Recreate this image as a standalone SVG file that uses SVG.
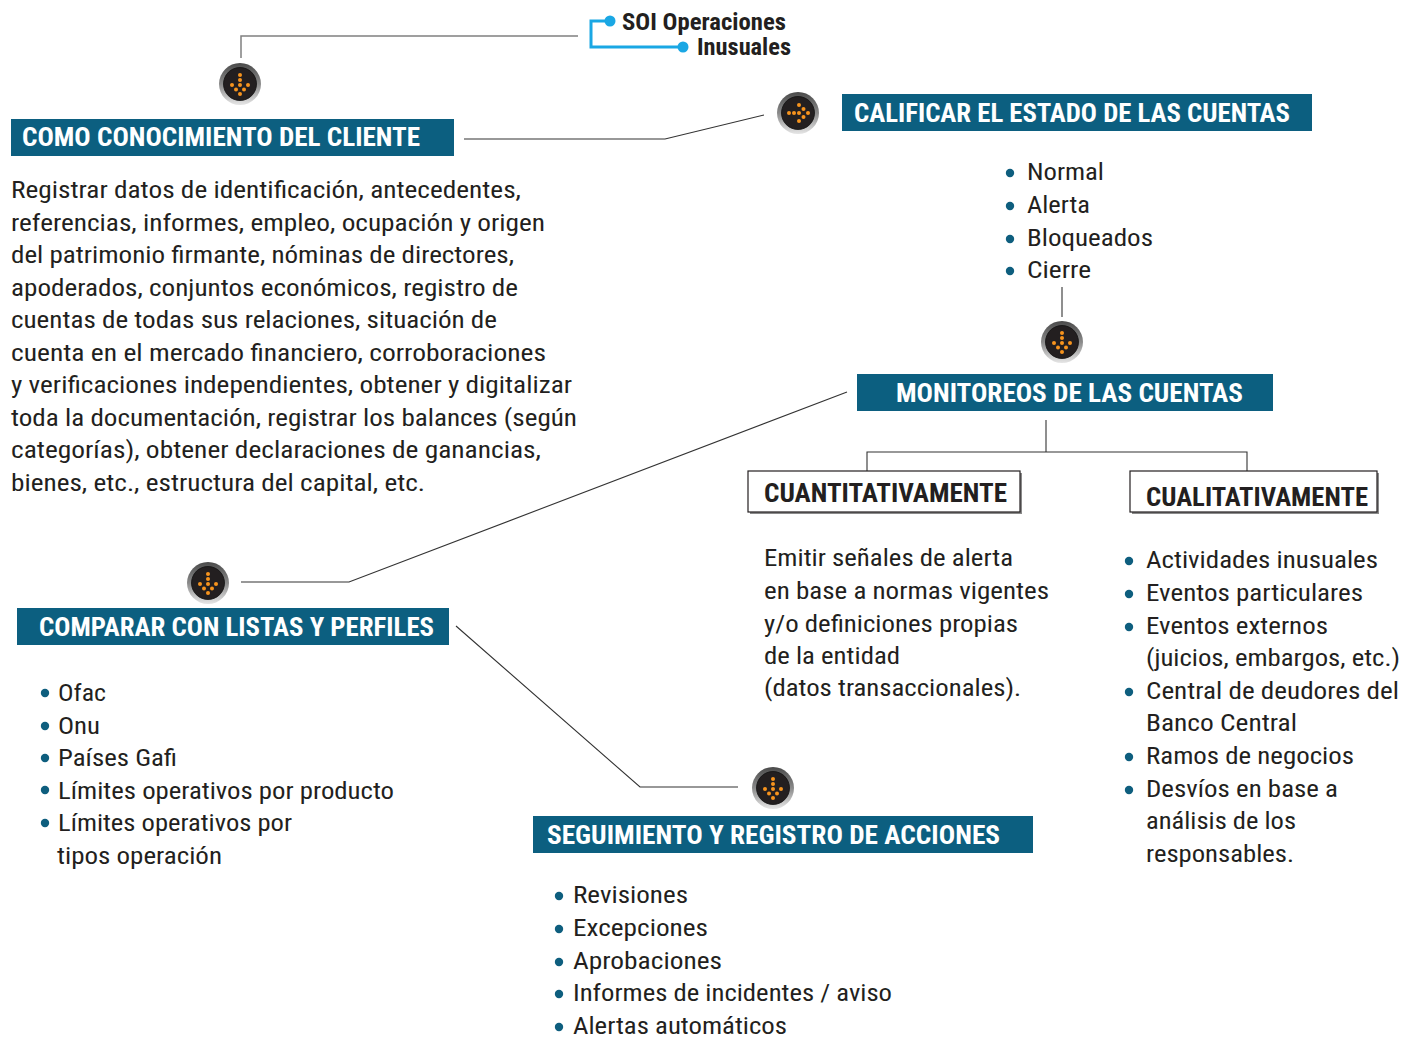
<svg xmlns="http://www.w3.org/2000/svg" width="1418" height="1039" viewBox="0 0 1418 1039">
<defs>
<style>
.t{font-family:"Liberation Sans Narrow","Roboto Condensed","Arial Narrow","Liberation Sans",sans-serif;font-size:24px;fill:#231f20}
.h{font-family:"Liberation Sans Narrow","Roboto Condensed","Arial Narrow","Liberation Sans",sans-serif;font-size:26px;font-weight:bold;fill:#ffffff}
.b{font-family:"Liberation Sans Narrow","Roboto Condensed","Arial Narrow","Liberation Sans",sans-serif;font-size:26px;font-weight:bold;fill:#231f20}
.s{font-family:"Liberation Sans Narrow","Roboto Condensed","Arial Narrow","Liberation Sans",sans-serif;font-size:23px;font-weight:bold;fill:#231f20}
.bar{fill:#0c5f80}
.box{fill:#ffffff;stroke:#231f20;stroke-width:1.2}
.ln{fill:none;stroke:#333333;stroke-width:1.1}
.bu{fill:#0e5e7e}
.dot{fill:#f7941d}
</style>
<linearGradient id="ring" x1="0" y1="0" x2="0" y2="1">
<stop offset="0" stop-color="#4a4a4a"/>
<stop offset="0.5" stop-color="#8a8a8a"/>
<stop offset="1" stop-color="#e6e6e6"/>
</linearGradient>
<g id="iconDown">
<circle r="21" fill="url(#ring)"/>
<circle r="16.5" fill="#231f20" stroke="#111" stroke-width="0.8"/>
<circle class="dot" cx="0" cy="-9" r="2"/>
<circle class="dot" cx="0" cy="-4" r="2"/>
<circle class="dot" cx="0" cy="1" r="2"/>
<circle class="dot" cx="-8" cy="1" r="2"/>
<circle class="dot" cx="8" cy="1" r="2"/>
<circle class="dot" cx="-4" cy="5.5" r="2"/>
<circle class="dot" cx="4" cy="5.5" r="2"/>
<circle class="dot" cx="0" cy="10" r="2"/>
</g>
<g id="iconRight">
<circle r="21" fill="url(#ring)"/>
<circle r="16.5" fill="#231f20" stroke="#111" stroke-width="0.8"/>
<circle class="dot" cx="-9" cy="0" r="2"/>
<circle class="dot" cx="-4" cy="0" r="2"/>
<circle class="dot" cx="1" cy="0" r="2"/>
<circle class="dot" cx="1" cy="-8" r="2"/>
<circle class="dot" cx="1" cy="8" r="2"/>
<circle class="dot" cx="5.5" cy="-4" r="2"/>
<circle class="dot" cx="5.5" cy="4" r="2"/>
<circle class="dot" cx="10" cy="0" r="2"/>
</g>
</defs>
<rect width="1418" height="1039" fill="#ffffff"/>

<g id="connectors">
<polyline points="578,36 241,36 241,58" fill="none" stroke="#808080" stroke-width="1.5"/>
<polyline class="ln" points="464,139 665,139 764,115"/>
<line class="ln" x1="1062" y1="287" x2="1062" y2="317"/>
<line class="ln" x1="1046" y1="420" x2="1046" y2="452"/>
<polyline class="ln" points="867,471 867,452 1247,452 1247,471"/>
<polyline class="ln" points="847,392 349,582 241,582"/>
<polyline class="ln" points="456,626 640,787 738,787"/>
</g>

<g id="title">
<polyline points="610,21 591,21 591,47 683,47" fill="none" stroke="#1aa7e4" stroke-width="3"/>
<circle cx="610" cy="21" r="5.5" fill="#1aa7e4"/>
<circle cx="683" cy="47" r="5.5" fill="#1aa7e4"/>
<text class="s" x="622" y="30" textLength="164" lengthAdjust="spacingAndGlyphs">SOI Operaciones</text>
<text class="s" x="697" y="55" textLength="94" lengthAdjust="spacingAndGlyphs">Inusuales</text>
</g>

<g id="icon1"><use href="#iconDown" x="240" y="84"/></g>
<g id="icon2"><use href="#iconRight" x="798" y="113"/></g>
<g id="icon3"><use href="#iconDown" x="1062" y="342"/></g>
<g id="icon4"><use href="#iconDown" x="208" y="583"/></g>
<g id="icon5"><use href="#iconDown" x="773" y="788"/></g>

<g id="node-conocimiento">
<rect class="bar" x="11" y="119" width="443" height="37"/>
<text class="h" x="22" y="146" textLength="398" lengthAdjust="spacingAndGlyphs">COMO CONOCIMIENTO DEL CLIENTE</text>
<text class="t" x="11" y="198" textLength="510" lengthAdjust="spacingAndGlyphs">Registrar datos de identificación, antecedentes,</text>
<text class="t" x="11" y="230.5" textLength="534" lengthAdjust="spacingAndGlyphs">referencias, informes, empleo, ocupación y origen</text>
<text class="t" x="11" y="263" textLength="503" lengthAdjust="spacingAndGlyphs">del patrimonio firmante, nóminas de directores,</text>
<text class="t" x="11" y="295.5" textLength="507" lengthAdjust="spacingAndGlyphs">apoderados, conjuntos económicos, registro de</text>
<text class="t" x="11" y="328" textLength="486" lengthAdjust="spacingAndGlyphs">cuentas de todas sus relaciones, situación de</text>
<text class="t" x="11" y="360.5" textLength="535" lengthAdjust="spacingAndGlyphs">cuenta en el mercado financiero, corroboraciones</text>
<text class="t" x="11" y="393" textLength="561" lengthAdjust="spacingAndGlyphs">y verificaciones independientes, obtener y digitalizar</text>
<text class="t" x="11" y="425.5" textLength="566" lengthAdjust="spacingAndGlyphs">toda la documentación, registrar los balances (según</text>
<text class="t" x="11" y="458" textLength="530" lengthAdjust="spacingAndGlyphs">categorías), obtener declaraciones de ganancias,</text>
<text class="t" x="11" y="490.5" textLength="414" lengthAdjust="spacingAndGlyphs">bienes, etc., estructura del capital, etc.</text>
</g>

<g id="node-calificar">
<rect class="bar" x="842" y="94" width="470" height="37"/>
<text class="h" x="854" y="122" textLength="436" lengthAdjust="spacingAndGlyphs">CALIFICAR EL ESTADO DE LAS CUENTAS</text>
<circle class="bu" cx="1010" cy="173" r="4.2"/>
<circle class="bu" cx="1010" cy="206" r="4.2"/>
<circle class="bu" cx="1010" cy="239" r="4.2"/>
<circle class="bu" cx="1010" cy="271" r="4.2"/>
<text class="t" x="1027" y="180" textLength="77" lengthAdjust="spacingAndGlyphs">Normal</text>
<text class="t" x="1027" y="213" textLength="63" lengthAdjust="spacingAndGlyphs">Alerta</text>
<text class="t" x="1027" y="246" textLength="126" lengthAdjust="spacingAndGlyphs">Bloqueados</text>
<text class="t" x="1027" y="278" textLength="64" lengthAdjust="spacingAndGlyphs">Cierre</text>
</g>

<g id="node-monitoreos">
<rect class="bar" x="857" y="374" width="416" height="37"/>
<text class="h" x="896" y="402" textLength="347" lengthAdjust="spacingAndGlyphs">MONITOREOS DE LAS CUENTAS</text>
</g>

<g id="node-cuantitativamente">
<rect x="750" y="473" width="272" height="41" fill="#8a8a8a"/>
<rect class="box" x="748" y="471" width="272" height="41"/>
<text class="b" x="764" y="502" textLength="243" lengthAdjust="spacingAndGlyphs">CUANTITATIVAMENTE</text>
<text class="t" x="764" y="566" textLength="249" lengthAdjust="spacingAndGlyphs">Emitir señales de alerta</text>
<text class="t" x="764" y="599" textLength="285" lengthAdjust="spacingAndGlyphs">en base a normas vigentes</text>
<text class="t" x="764" y="632" textLength="254" lengthAdjust="spacingAndGlyphs">y/o definiciones propias</text>
<text class="t" x="764" y="664" textLength="136" lengthAdjust="spacingAndGlyphs">de la entidad</text>
<text class="t" x="764" y="696" textLength="257" lengthAdjust="spacingAndGlyphs">(datos transaccionales).</text>
</g>

<g id="node-cualitativamente">
<rect x="1132" y="473" width="247" height="41" fill="#8a8a8a"/>
<rect class="box" x="1130" y="471" width="247" height="41"/>
<text class="b" x="1146" y="506" textLength="222" lengthAdjust="spacingAndGlyphs">CUALITATIVAMENTE</text>
<circle class="bu" cx="1129" cy="561" r="4.2"/>
<circle class="bu" cx="1129" cy="594" r="4.2"/>
<circle class="bu" cx="1129" cy="627" r="4.2"/>
<circle class="bu" cx="1129" cy="692" r="4.2"/>
<circle class="bu" cx="1129" cy="757" r="4.2"/>
<circle class="bu" cx="1129" cy="790" r="4.2"/>
<text class="t" x="1146" y="568" textLength="232" lengthAdjust="spacingAndGlyphs">Actividades inusuales</text>
<text class="t" x="1146" y="601" textLength="217" lengthAdjust="spacingAndGlyphs">Eventos particulares</text>
<text class="t" x="1146" y="634" textLength="182" lengthAdjust="spacingAndGlyphs">Eventos externos</text>
<text class="t" x="1146" y="666" textLength="254" lengthAdjust="spacingAndGlyphs">(juicios, embargos, etc.)</text>
<text class="t" x="1146" y="699" textLength="253" lengthAdjust="spacingAndGlyphs">Central de deudores del</text>
<text class="t" x="1146" y="731" textLength="151" lengthAdjust="spacingAndGlyphs">Banco Central</text>
<text class="t" x="1146" y="764" textLength="208" lengthAdjust="spacingAndGlyphs">Ramos de negocios</text>
<text class="t" x="1146" y="797" textLength="192" lengthAdjust="spacingAndGlyphs">Desvíos en base a</text>
<text class="t" x="1146" y="829" textLength="150" lengthAdjust="spacingAndGlyphs">análisis de los</text>
<text class="t" x="1146" y="862" textLength="148" lengthAdjust="spacingAndGlyphs">responsables.</text>
</g>

<g id="node-comparar">
<rect class="bar" x="17" y="608" width="432" height="37"/>
<text class="h" x="39" y="636" textLength="395" lengthAdjust="spacingAndGlyphs">COMPARAR CON LISTAS Y PERFILES</text>
<circle class="bu" cx="45" cy="693" r="4.2"/>
<circle class="bu" cx="45" cy="726" r="4.2"/>
<circle class="bu" cx="45" cy="758" r="4.2"/>
<circle class="bu" cx="45" cy="790" r="4.2"/>
<circle class="bu" cx="45" cy="823" r="4.2"/>
<text class="t" x="58" y="701" textLength="48" lengthAdjust="spacingAndGlyphs">Ofac</text>
<text class="t" x="58" y="734" textLength="42" lengthAdjust="spacingAndGlyphs">Onu</text>
<text class="t" x="58" y="766" textLength="119" lengthAdjust="spacingAndGlyphs">Países Gafi</text>
<text class="t" x="58" y="799" textLength="336" lengthAdjust="spacingAndGlyphs">Límites operativos por producto</text>
<text class="t" x="58" y="831" textLength="234" lengthAdjust="spacingAndGlyphs">Límites operativos por</text>
<text class="t" x="57" y="864" textLength="165" lengthAdjust="spacingAndGlyphs">tipos operación</text>
</g>

<g id="node-seguimiento">
<rect class="bar" x="533" y="816" width="500" height="37"/>
<text class="h" x="547" y="844" textLength="453" lengthAdjust="spacingAndGlyphs">SEGUIMIENTO Y REGISTRO DE ACCIONES</text>
<circle class="bu" cx="559" cy="896" r="4.2"/>
<circle class="bu" cx="559" cy="929" r="4.2"/>
<circle class="bu" cx="559" cy="962" r="4.2"/>
<circle class="bu" cx="559" cy="994" r="4.2"/>
<circle class="bu" cx="559" cy="1027" r="4.2"/>
<text class="t" x="573" y="903" textLength="115" lengthAdjust="spacingAndGlyphs">Revisiones</text>
<text class="t" x="573" y="936" textLength="135" lengthAdjust="spacingAndGlyphs">Excepciones</text>
<text class="t" x="573" y="969" textLength="149" lengthAdjust="spacingAndGlyphs">Aprobaciones</text>
<text class="t" x="573" y="1001" textLength="319" lengthAdjust="spacingAndGlyphs">Informes de incidentes / aviso</text>
<text class="t" x="573" y="1034" textLength="214" lengthAdjust="spacingAndGlyphs">Alertas automáticos</text>
</g>
</svg>
